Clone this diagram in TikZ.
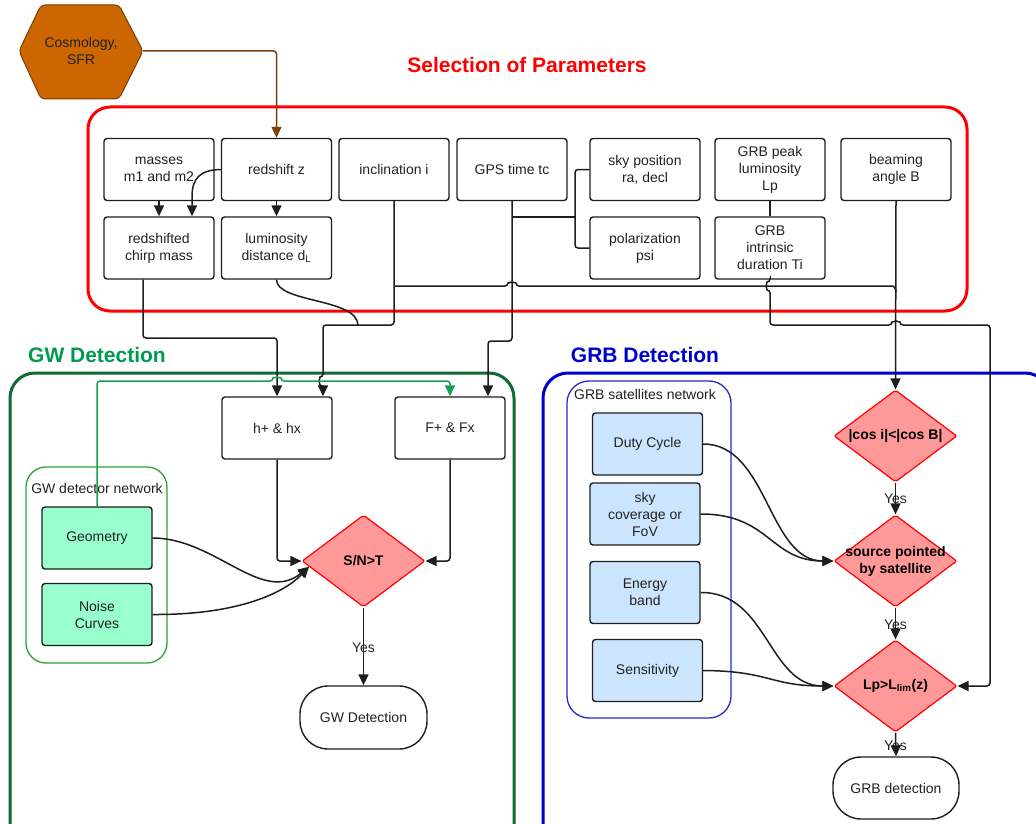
\documentclass[tikz,border=0pt]{standalone}
\usepackage{fontspec}
\setmainfont{Liberation Sans}
\usetikzlibrary{shapes.geometric,arrows.meta}
\definecolor{txt}{HTML}{222222}
\definecolor{lncol}{HTML}{1E1E1E}
\definecolor{selred}{HTML}{FF0000}
\definecolor{gwtitle}{HTML}{009A4E}
\definecolor{gwboxc}{HTML}{0E6B36}
\definecolor{gwnetc}{HTML}{2DA52D}
\definecolor{gwline}{HTML}{14A050}
\definecolor{grbblue}{HTML}{0000CC}
\definecolor{grbnetc}{HTML}{2A2ACC}
\definecolor{mint}{HTML}{99FFCC}
\definecolor{lblue}{HTML}{CCE5FF}
\definecolor{dfill}{HTML}{FF9999}
\definecolor{hexfill}{HTML}{CC6600}
\definecolor{hexdraw}{HTML}{7A3D00}
\definecolor{brownln}{HTML}{7B4012}
\newcommand\myfs{\fontsize{14}{17}\selectfont}
\newcommand\mytitle{\fontsize{21}{25}\selectfont\bfseries}
\begin{document}
\begin{tikzpicture}[x=1pt,y=-1pt,
  pbox/.style={draw=lncol, line width=1.4pt, rounded corners=3pt, minimum width=110pt, minimum height=62pt,
    align=center, font=\myfs, text=txt, inner sep=0pt, fill=white},
  gbox/.style={pbox, fill=mint},
  bbox/.style={pbox, fill=lblue},
  dia/.style={diamond, draw=selred, fill=dfill, line width=1.2pt, minimum width=123pt, minimum height=92pt,
    inner sep=0pt, rounded corners=2pt},
  dtext/.style={font=\myfs\bfseries, align=center, text=black},
  term/.style={draw=lncol, line width=1.4pt, rounded corners=28pt, minimum width=127pt, minimum height=63pt,
    font=\myfs, text=txt, fill=white},
  lbl/.style={font=\myfs, text=txt},
  conn/.style={draw=lncol, line width=1.5pt, rounded corners=3pt},
  arr/.style={conn, -{Triangle[length=11pt,width=10pt]}},
  garr/.style={draw=gwline, line width=1.5pt, rounded corners=3pt, -{Triangle[length=11pt,width=10pt]}},
  barr/.style={draw=brownln, line width=1.5pt, rounded corners=3pt, -{Triangle[length=11pt,width=10pt]}},
  ttl/.style={font=\mytitle}
]
\clip (0,0) rectangle (1036,824);
\fill[white] (0,0) rectangle (1036,824);

% ---------- containers ----------
\draw[selred, line width=3pt, rounded corners=22pt] (88,107) rectangle (967,311);
\draw[gwboxc, line width=3pt, rounded corners=25pt] (10,373) rectangle (514,880);
\draw[grbblue, line width=3pt, rounded corners=25pt] (543,373) rectangle (1050,880);
\draw[gwnetc, line width=1.3pt, rounded corners=20pt] (26,467) rectangle (167,663);
\draw[grbnetc, line width=1.3pt, rounded corners=22pt] (567,381) rectangle (731,718);

% ---------- titles ----------
\node[ttl, text=selred] (tsel) at (527,65) {Selection of Parameters};
\node[ttl, text=gwtitle] (tgw) at (97,355) {GW Detection};
\node[ttl, text=grbblue] (tgrb) at (645,355) {GRB Detection};
\node[lbl] (gwnetlbl) at (97,488) {GW detector network};
\node[lbl] (grbnetlbl) at (645,394) {GRB satellites network};

% ---------- hexagon ----------
\draw[fill=hexfill, draw=hexdraw, line width=1pt, rounded corners=4pt]
  (19,51) -- (41,5) -- (119,5) -- (143,51) -- (119,99) -- (41,99) -- cycle;
\node[font=\myfs, text=txt, align=center] (hex) at (81,51) {Cosmology,\\SFR};
\coordinate (hexr) at (143,51);

% ---------- parameter boxes ----------
\node[pbox] (masses) at (159,169.5) {masses\\m1 and m2};
\node[pbox] (redshift) at (276.5,169.5) {redshift z};
\node[pbox] (incl) at (394,169.5) {inclination i};
\node[pbox] (gps) at (512,169.5) {GPS time tc};
\node[pbox] (sky) at (645,169.5) {sky position\\ra, decl};
\node[pbox] (lp) at (770,169.5) {GRB peak\\luminosity\\Lp};
\node[pbox] (beam) at (896,169.5) {beaming\\angle B};
\node[pbox] (chirp) at (159,248) {redshifted\\chirp mass};
\node[pbox] (dl) at (276.5,248) {luminosity\\distance d\textsubscript{L}};
\node[pbox] (pol) at (645,248) {polarization\\psi};
\node[pbox] (ti) at (770,248) {GRB\\intrinsic\\duration Ti};

% ---------- GW part ----------
\node[pbox] (hh) at (277,428) {h+ \& hx};
\node[pbox] (ff) at (450,428) {F+ \& Fx};
\node[gbox] (geom) at (97,538) {Geometry};
\node[gbox] (noise) at (97,614.5) {Noise\\Curves};
\node[dia] (snt) at (363.5,561) {};
\node[dtext] (snttxt) at (snt) {S/N>T};
\node[term] (gwdet) at (363.5,717.5) {GW Detection};

% ---------- GRB part ----------
\node[bbox] (duty) at (647.5,444) {Duty Cycle};
\node[bbox] (skycov) at (645,514) {sky\\coverage or\\FoV};
\node[bbox] (energy) at (645,592.5) {Energy\\band};
\node[bbox] (sens) at (647.5,670.5) {Sensitivity};
\node[dia] (d1) at (895.5,436) {};
\node[dtext] (d1txt) at (d1) {|cos i|<|cos B|};
\node[dia] (d2) at (895.5,561) {};
\node[dtext] (d2txt) at (d2) {source pointed\\by satellite};
\node[dia] (d3) at (895.5,686) {};
\node[dtext] (d3txt) at (d3) {Lp>L\textsubscript{lim}(z)};
\node[term, minimum width=126pt, minimum height=62pt] (grbdet) at (896,788) {GRB detection};

% ---------- connectors: parameters ----------
\draw[barr] (hexr) -| (redshift.north);
\draw[arr] (masses.south) -- (chirp.north);
\draw[arr] (redshift.west) .. controls (200,170) and (192,178) .. (192,200) -- ([xshift=33pt]chirp.north);
\draw[arr] (redshift.south) -- (dl.north);
\draw[conn] (lp.south) -- (ti.north);
\coordinate (brk) at (575,217);
\coordinate (gpsj) at (512,217);
\draw[conn] (sky.west) -| (brk) |- (pol.west);
\draw[conn] (gpsj) -- (brk);

% inclination -> beaming line (with hop over GPS line)
\coordinate (i1) at (394,286);
\draw[conn] (i1) -- (508,286) arc[start angle=180,end angle=0,radius=4pt] -- (890,286)
  arc[start angle=90,end angle=0,radius=6pt];
% inclination -> h+ & hx
\draw[arr] (incl.south) -- (394,325) -- (323,325) -- (323,377)
  arc[start angle=90,end angle=270,radius=4pt] -- ([xshift=46pt]hh.north);
% luminosity distance joins
\draw[conn] (dl.south) .. controls (277,303) and (357,298) .. (358,325);
% chirp mass -> h+ & hx
\draw[arr] ([xshift=-16pt]chirp.south) -- (143,338) -| (hh.north);
% GPS -> F+ & Fx
\draw[arr] (gps.south) -- (512,341) -| ([xshift=38pt]ff.north);
% Geometry -> F+ & Fx (green)
\draw[garr] (geom.north) -- (97,381) -- (273,381) arc[start angle=180,end angle=0,radius=4pt]
  -- (450,381) -- (ff.north);
% beaming -> d1
\draw[arr] (beam.south) -- (d1.north);
% Ti -> d3
\draw[arr] (ti.south) -- (770,282) arc[start angle=90,end angle=270,radius=4pt] -- (770,325)
  -- (892,325) arc[start angle=180,end angle=0,radius=4pt] -- (990,325) -- (990,686) -- (d3.east);

% ---------- connectors: GW ----------
\draw[arr] (hh.south) |- (snt.west);
\draw[arr] (ff.south) |- (snt.east);
\draw[arr] (geom.east) .. controls (215,538) and (262,605) .. (snt.186);
\draw[arr] (noise.east) .. controls (240,615) and (285,592) .. (snt.186);
\draw[arr] (snt.south) -- (gwdet.north);
\node[lbl] (yes0) at (363.5,648) {Yes};

% ---------- connectors: GRB ----------
\draw[arr] (duty.east) .. controls (768,444) and (768,561) .. (d2.west);
\draw[arr] (skycov.east) .. controls (770,514) and (770,561) .. (d2.west);
\draw[arr] (energy.east) .. controls (768,592) and (768,686) .. (d3.west);
\draw[arr] (sens.east) .. controls (770,671) and (770,686) .. (d3.west);
\draw[arr] (d1.south) -- (d2.north);
\draw[arr] (d2.south) -- (d3.north);
\draw[arr] (d3.south) -- (grbdet.north);
\node[lbl] (yes1) at (895.5,499) {Yes};
\node[lbl] (yes2) at (895.5,625) {Yes};
\node[lbl] (yes3) at (895.5,746) {Yes};
\end{tikzpicture}
\end{document}
